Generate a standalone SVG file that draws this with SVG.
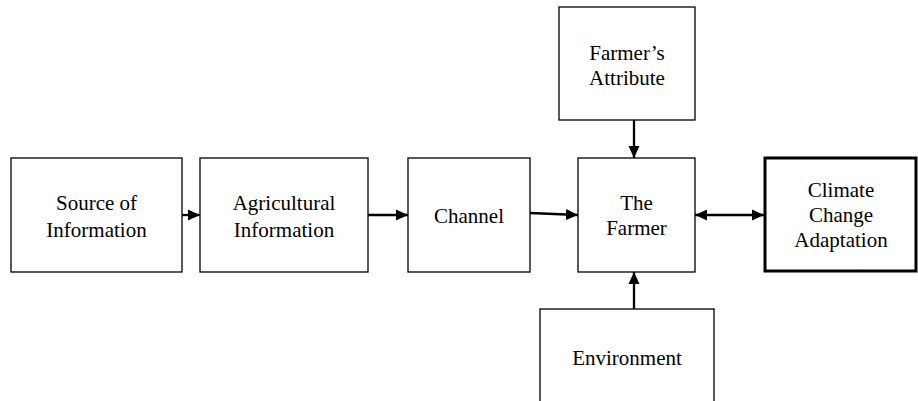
<svg xmlns="http://www.w3.org/2000/svg" width="918" height="401" viewBox="0 0 918 401">
<style>
.box{fill:#fff;stroke:#000;stroke-width:1.3}
.bold{fill:#fff;stroke:#000;stroke-width:3}
text{font-family:'Liberation Serif','DejaVu Serif',serif;font-size:21px;fill:#000;text-anchor:middle}
.c{stroke:#000;stroke-width:2.3;fill:none}
</style>
<defs>
<marker id="ah" markerWidth="12" markerHeight="12" refX="12" refY="6" orient="auto-start-reverse" markerUnits="userSpaceOnUse">
<path d="M0,0.5 L12,6 L0,11.5 Z" fill="#000"/>
</marker>
</defs>
<g font-family="Liberation Serif, serif">
<g id="source"><rect class="box" x="11" y="158" width="171" height="114"/><text x="96.5" y="210">Source of</text><text x="96.5" y="237">Information</text></g>
<g id="agri"><rect class="box" x="200" y="158" width="168" height="114"/><text x="284" y="210">Agricultural</text><text x="284" y="237">Information</text></g>
<g id="channel"><rect class="box" x="408" y="158" width="122" height="114"/><text x="469" y="223">Channel</text></g>
<g id="farmer"><rect class="box" x="578" y="158" width="117" height="114"/><text x="636.5" y="210">The</text><text x="636.5" y="235">Farmer</text></g>
<g id="attribute"><rect class="box" x="559" y="7" width="136" height="113"/><text x="627" y="60">Farmer’s</text><text x="627" y="85">Attribute</text></g>
<g id="environment"><rect class="box" x="540" y="309" width="174" height="110"/><text x="627" y="365">Environment</text></g>
<g id="climate"><rect class="bold" x="765" y="158" width="151" height="113"/><text x="841" y="197">Climate</text><text x="841" y="222">Change</text><text x="841" y="247">Adaptation</text></g>
</g>
<g id="connectors">
<line class="c" x1="182" y1="215" x2="200" y2="215" marker-end="url(#ah)"/>
<line class="c" x1="368" y1="215" x2="408" y2="215" marker-end="url(#ah)"/>
<line class="c" x1="530" y1="213" x2="578" y2="215" marker-end="url(#ah)"/>
<line class="c" x1="695" y1="215" x2="764" y2="215" marker-start="url(#ah)" marker-end="url(#ah)"/>
<line class="c" x1="634" y1="120" x2="634" y2="158" marker-end="url(#ah)"/>
<line class="c" x1="634" y1="309" x2="634" y2="272" marker-end="url(#ah)"/>
</g>
</svg>
